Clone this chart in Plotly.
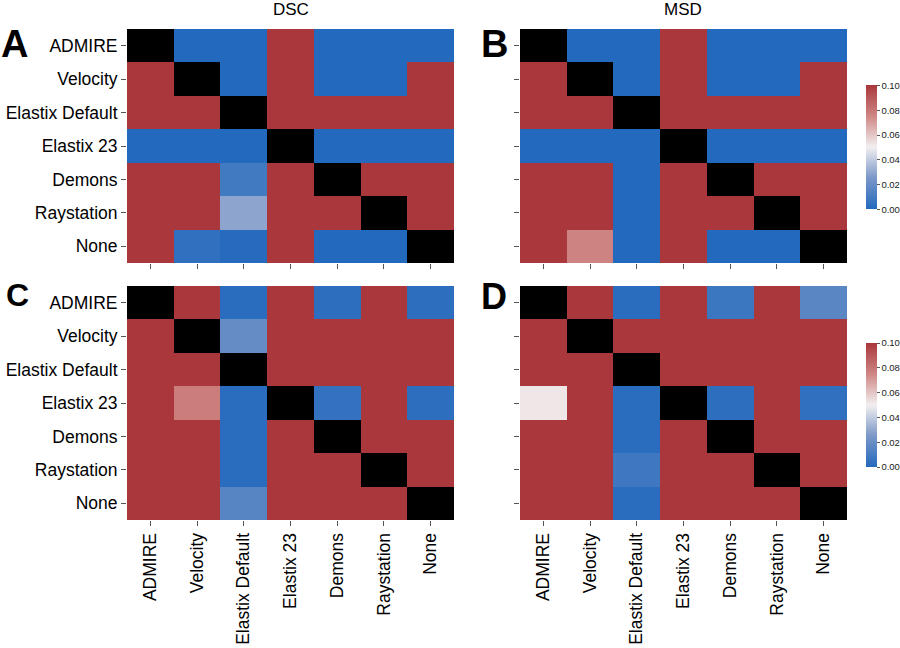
import plotly.graph_objects as go

methods = ["ADMIRE", "Velocity", "Elastix Default", "Elastix 23", "Demons", "Raystation", "None"]
N = None

dsc_top = [
    [N, 0.0, 0.0, 0.1, 0.0, 0.0, 0.0],
    [0.1, N, 0.0, 0.1, 0.0, 0.0, 0.1],
    [0.1, 0.1, N, 0.1, 0.1, 0.1, 0.1],
    [0.0, 0.0, 0.0, N, 0.0, 0.0, 0.0],
    [0.1, 0.1, 0.009, 0.1, N, 0.1, 0.1],
    [0.1, 0.1, 0.029, 0.1, 0.1, N, 0.1],
    [0.1, 0.004, 0.001, 0.1, 0.0, 0.0, N],
]
msd_top = [
    [N, 0.0, 0.0, 0.1, 0.0, 0.0, 0.0],
    [0.1, N, 0.0, 0.1, 0.0, 0.0, 0.1],
    [0.1, 0.1, N, 0.1, 0.1, 0.1, 0.1],
    [0.0, 0.0, 0.0, N, 0.0, 0.0, 0.0],
    [0.1, 0.1, 0.0, 0.1, N, 0.1, 0.1],
    [0.1, 0.1, 0.0, 0.1, 0.1, N, 0.1],
    [0.1, 0.076, 0.0, 0.1, 0.0, 0.0, N],
]
dsc_bottom = [
    [N, 0.1, 0.002, 0.1, 0.003, 0.1, 0.003],
    [0.1, N, 0.019, 0.1, 0.1, 0.1, 0.1],
    [0.1, 0.1, N, 0.1, 0.1, 0.1, 0.1],
    [0.1, 0.078, 0.002, N, 0.005, 0.1, 0.003],
    [0.1, 0.1, 0.002, 0.1, N, 0.1, 0.1],
    [0.1, 0.1, 0.002, 0.1, 0.1, N, 0.1],
    [0.1, 0.1, 0.015, 0.1, 0.1, 0.1, N],
]
msd_bottom = [
    [N, 0.1, 0.002, 0.1, 0.007, 0.1, 0.016],
    [0.1, N, 0.1, 0.1, 0.1, 0.1, 0.1],
    [0.1, 0.1, N, 0.1, 0.1, 0.1, 0.1],
    [0.052, 0.1, 0.002, N, 0.003, 0.1, 0.004],
    [0.1, 0.1, 0.002, 0.1, N, 0.1, 0.1],
    [0.1, 0.1, 0.008, 0.1, 0.1, N, 0.1],
    [0.1, 0.1, 0.002, 0.1, 0.1, 0.1, N],
]
col_titles = ["DSC", "MSD"]
panel_letters = ["A", "B", "C", "D"]
cbar_ticks = [0.0, 0.02, 0.04, 0.06, 0.08, 0.10]
cbar_labels = ["0.00", "0.02", "0.04", "0.06", "0.08", "0.10"]

vlag = [
    [0.0, "rgb(35,105,189)"],
    [0.25, "rgb(122,151,200)"],
    [0.5, "rgb(242,239,240)"],
    [0.75, "rgb(206,134,132)"],
    [1.0, "rgb(169,55,59)"],
]

FONT = "Liberation Sans, Arial, sans-serif"
W, H = 900, 648

def px_x(v):
    return v / W

def px_y(v):
    return 1 - v / H

xdom = [[px_x(127), px_x(454)], [px_x(520), px_x(847)]]
ydom = [[px_y(263), px_y(29)], [px_y(520), px_y(286)]]

fig = go.Figure()
data = [dsc_top, msd_top, dsc_bottom, msd_bottom]
for i, z in enumerate(data):
    r, c = divmod(i, 2)
    n = i + 1
    fig.add_trace(go.Heatmap(
        z=z, x=methods, y=methods,
        coloraxis="coloraxis" if r == 0 else "coloraxis2",
        xaxis="x" if n == 1 else f"x{n}",
        yaxis="y" if n == 1 else f"y{n}",
        hoverongaps=False,
    ))
    ax = dict(
        domain=xdom[c], anchor="y" if n == 1 else f"y{n}",
        showgrid=False, zeroline=False, showline=False, automargin=False,
        ticks="outside", ticklen=5, tickcolor="#555", tickwidth=1,
        showticklabels=(r == 1), tickangle=-90,
        tickfont=dict(family=FONT, size=17.5, color="black"),
    )
    ay = dict(
        domain=ydom[r], anchor="x" if n == 1 else f"x{n}",
        showgrid=False, zeroline=False, showline=False, automargin=False,
        autorange="reversed",
        ticks="outside", ticklen=5, tickcolor="#555", tickwidth=1,
        showticklabels=(c == 0),
        tickfont=dict(family=FONT, size=17.5, color="black"),
    )
    fig.update_layout({("xaxis" if n == 1 else f"xaxis{n}"): ax,
                       ("yaxis" if n == 1 else f"yaxis{n}"): ay})

def cbar(ycenter):
    return dict(
        thickness=11, len=124 / H, lenmode="fraction",
        x=px_x(866), xanchor="left", y=ycenter, yanchor="middle",
        xpad=0, ypad=0,
        tickmode="array", tickvals=cbar_ticks, ticktext=cbar_labels,
        ticks="outside", ticklen=3, tickcolor="#555",
        tickfont=dict(family=FONT, size=9.5, color="#222"),
        outlinewidth=0,
    )

fig.update_layout(
    width=W, height=H,
    margin=dict(l=0, r=0, t=0, b=0, autoexpand=False),
    paper_bgcolor="white", plot_bgcolor="black",
    font=dict(family=FONT, color="black"),
    coloraxis=dict(colorscale=vlag, cmin=0, cmax=0.1, colorbar=cbar(px_y(147.5))),
    coloraxis2=dict(colorscale=vlag, cmin=0, cmax=0.1, colorbar=cbar(px_y(405))),
)

ann = []
for c, t in enumerate(col_titles):
    ann.append(dict(text=t, x=(xdom[c][0] + xdom[c][1]) / 2, y=px_y(10),
                    xref="paper", yref="paper", showarrow=False,
                    font=dict(family=FONT, size=17, color="black"),
                    xanchor="center", yanchor="middle"))
letter_pos = [(14, 44, 38), (494, 44, 38), (17, 295, 32), (494, 296, 36)]
for L, (lx, ly, fs) in zip(panel_letters, letter_pos):
    ann.append(dict(text=f"<b>{L}</b>", x=px_x(lx), y=px_y(ly),
                    xref="paper", yref="paper", showarrow=False,
                    font=dict(family=FONT, size=fs, color="black"),
                    xanchor="center", yanchor="middle"))
fig.update_layout(annotations=ann)

fig.write_html(
    "out.html",
    config={"displayModeBar": False},
    post_script="document.body.style.margin='0';document.body.style.overflow='hidden';",
)
